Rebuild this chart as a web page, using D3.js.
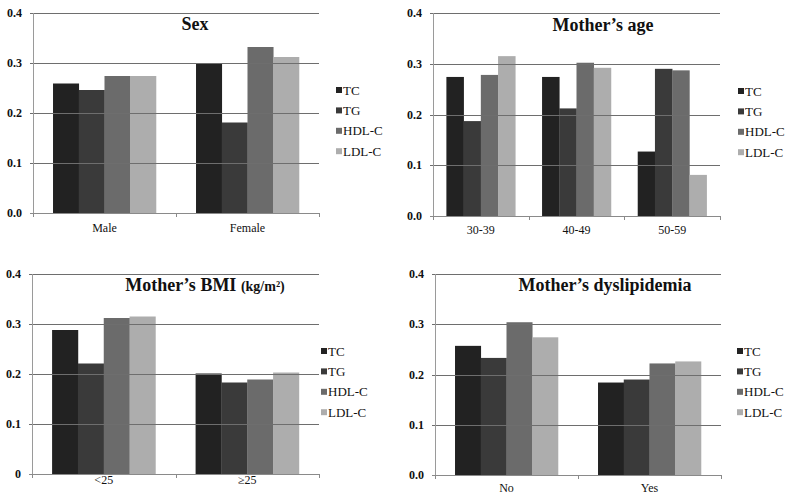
<!DOCTYPE html>
<html><head><meta charset="utf-8">
<script src="https://cdn.jsdelivr.net/npm/d3@7"></script>
<style>
html,body{margin:0;padding:0;background:#fff;}
svg{display:block;}
svg text{font-family:"Liberation Serif","Times New Roman",serif;}
</style></head>
<body><svg id="c" width="787" height="501"></svg>
<script>
const series = ["TC", "TG", "HDL-C", "LDL-C"];
const sexCats = ["Male", "Female"];
const sexValues = [[0.259, 0.246, 0.274, 0.274], [0.300, 0.181, 0.332, 0.312]];
const ageCats = ["30-39", "40-49", "50-59"];
const ageValues = [[0.274, 0.187, 0.278, 0.315], [0.274, 0.212, 0.302, 0.292], [0.127, 0.290, 0.287, 0.081]];
const bmiCats = ["<25", "≥25"];
const bmiValues = [[0.288, 0.221, 0.312, 0.315], [0.201, 0.183, 0.189, 0.203]];
const dysCats = ["No", "Yes"];
const dysValues = [[0.257, 0.233, 0.304, 0.274], [0.184, 0.190, 0.222, 0.226]];
const yTicks = [0, 0.1, 0.2, 0.3, 0.4];
const yTickLabels = ["0.0", "0.1", "0.2", "0.3", "0.4"];
const yTickLabelsBmi = ["0", "0.1", "0.2", "0.3", "0.4"];

const colors = ["#222222", "#3a3a3a", "#6b6b6b", "#adadad"];
const FONT = "'Liberation Serif', 'Times New Roman', serif";

const panels = [
  {title: "Sex", sub: "", cats: sexCats, values: sexValues, labels: yTickLabels,
   x0: 33, x1: 319, yTop: 13, yBot: 213, tx: 195, ty: 30, lx: 336, ly: 90, catY: 232},
  {title: "Mother’s age", sub: "", cats: ageCats, values: ageValues, labels: yTickLabels,
   x0: 433, x1: 720, yTop: 13, yBot: 216, tx: 603, ty: 31, lx: 738, ly: 91, catY: 234},
  {title: "Mother’s BMI ", sub: "(kg/m²)", cats: bmiCats, values: bmiValues, labels: yTickLabelsBmi,
   x0: 32, x1: 319, yTop: 274, yBot: 474, tx: 205, ty: 291, lx: 321, ly: 351, catY: 484},
  {title: "Mother’s dyslipidemia", sub: "", cats: dysCats, values: dysValues, labels: yTickLabels,
   x0: 435, x1: 721, yTop: 274, yBot: 475, tx: 605, ty: 291, lx: 737, ly: 351, catY: 492}
];

const svg = d3.select("#c");

panels.forEach(p => {
  const g = svg.append("g").attr("font-family", FONT);
  const y = d3.scaleLinear().domain([0, 0.4]).range([p.yBot, p.yTop]);
  const x = d3.scaleBand().domain(p.cats).range([p.x0, p.x1]).paddingInner(0.28).paddingOuter(0.14);
  const xs = d3.scaleBand().domain(series).range([0, x.bandwidth()]);

  // bars
  p.cats.forEach((c, ci) => {
    g.selectAll(null).data(p.values[ci]).enter().append("rect")
      .attr("x", (d, i) => x(c) + xs(series[i]))
      .attr("width", xs.bandwidth() + 0.3)
      .attr("y", d => y(d))
      .attr("height", d => y(0) - y(d))
      .attr("fill", (d, i) => colors[i]);
  });

  // gridlines (drawn over bars)
  g.selectAll(null).data(yTicks.filter(t => t > 0)).enter().append("line")
    .attr("x1", p.x0 - 3).attr("x2", p.x1)
    .attr("y1", d => Math.round(y(d)) + 0.5).attr("y2", d => Math.round(y(d)) + 0.5)
    .attr("stroke", "#6e6e6e").attr("stroke-width", 1);

  // left axis
  g.append("line").attr("x1", p.x0 + 0.5).attr("x2", p.x0 + 0.5)
    .attr("y1", p.yTop).attr("y2", p.yBot).attr("stroke", "#9a9a9a");
  // bottom axis
  g.append("line").attr("x1", p.x0 - 3).attr("x2", p.x1)
    .attr("y1", Math.round(y(0)) + 0.5).attr("y2", Math.round(y(0)) + 0.5).attr("stroke", "#8a8a8a");
  const bounds = d3.range(p.cats.length + 1).map(i => p.x0 + i * x.step());
  g.selectAll(null).data(bounds).enter().append("line")
    .attr("x1", d => Math.round(d) + 0.5).attr("x2", d => Math.round(d) + 0.5)
    .attr("y1", y(0)).attr("y2", y(0) + 4).attr("stroke", "#8a8a8a");

  // y tick labels
  g.selectAll(null).data(yTicks).enter().append("text")
    .attr("x", p.x0 - 11).attr("y", d => y(d) + 4)
    .attr("text-anchor", "end").attr("font-size", 12).attr("font-weight", "bold")
    .attr("font-family", FONT).attr("fill", "#111")
    .text((d, i) => p.labels[i]);

  // category labels
  g.selectAll(null).data(p.cats).enter().append("text")
    .attr("x", d => x(d) + x.bandwidth() / 2).attr("y", p.catY)
    .attr("text-anchor", "middle").attr("font-size", 12).attr("font-family", FONT).attr("fill", "#111")
    .text(d => d);

  // title
  const t = g.append("text").attr("x", p.tx).attr("y", p.ty)
    .attr("text-anchor", "middle").attr("font-size", 18).attr("font-weight", "bold")
    .attr("font-family", FONT).attr("fill", "#111");
  t.append("tspan").text(p.title);
  if (p.sub) t.append("tspan").attr("font-size", 14).text(p.sub);

  // legend
  const lg = g.selectAll(null).data(series).enter().append("g")
    .attr("transform", (d, i) => `translate(${p.lx},${p.ly + i * 20.4})`);
  lg.append("rect").attr("x", 0).attr("y", -3).attr("width", 6).attr("height", 6)
    .attr("fill", (d, i) => colors[i]);
  lg.append("text").attr("x", 7).attr("y", 4.5).attr("font-size", 13)
    .attr("font-family", FONT).attr("fill", "#111")
    .text(d => d);
});
</script></body></html>
